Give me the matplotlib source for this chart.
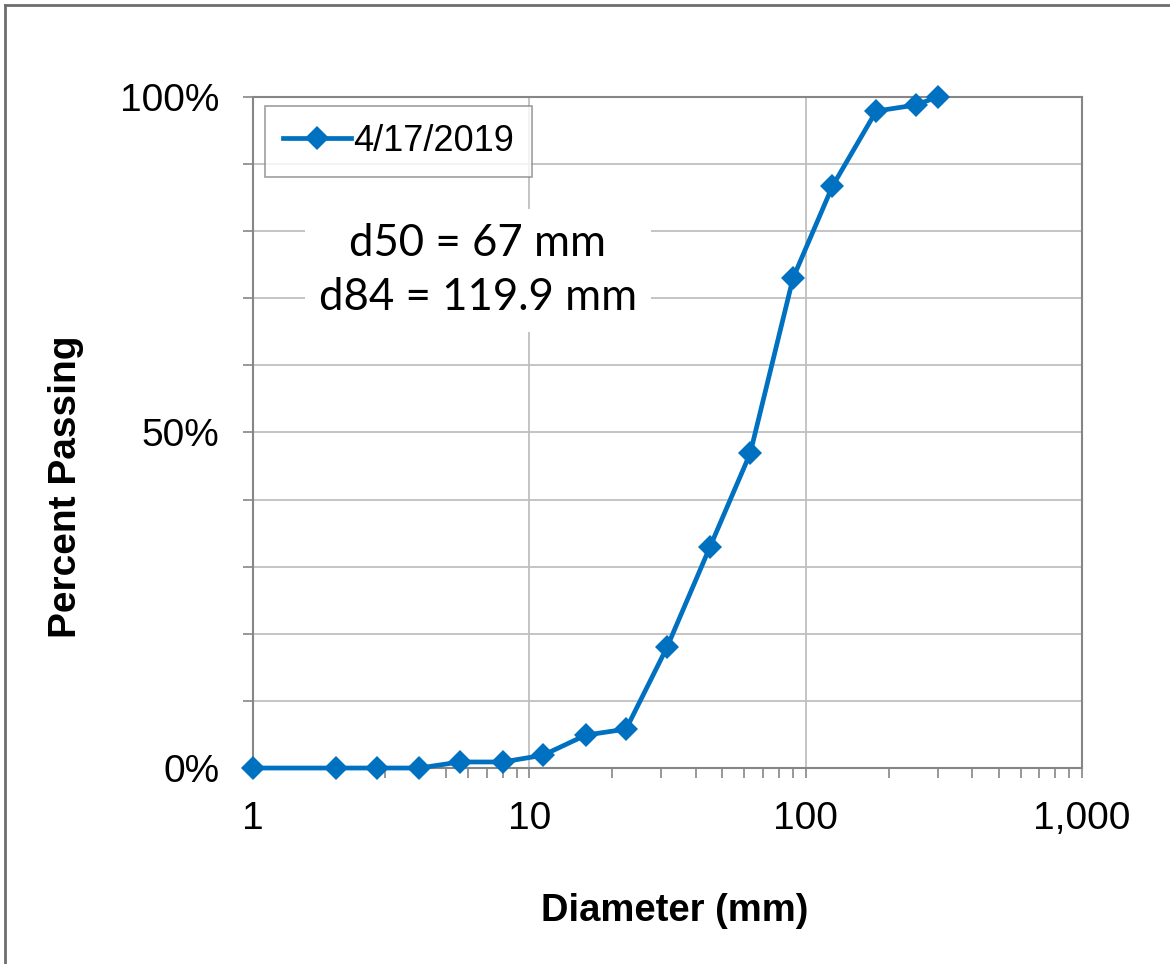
import matplotlib.pyplot as plt
from matplotlib.ticker import FixedLocator, FuncFormatter, NullFormatter
from matplotlib.lines import Line2D

# sieve sizes (mm) and percent passing
diameter = [1, 2, 2.8, 4, 5.6, 8, 11.2, 16, 22.4, 31.5, 45, 63, 90, 125, 180, 250, 300]
passing = [0, 0, 0, 0, 0.9, 0.9, 1.9, 4.9, 5.8, 18.0, 32.9, 46.9, 73.0, 86.7, 97.9, 98.8, 100]
series_label = "4/17/2019"
stats_text = "d50 = 67 mm\nd84 = 119.9 mm"
x_ticks = [1, 10, 100, 1000]
x_ticklabels = ["1", "10", "100", "1,000"]
y_labeled = [0, 50, 100]

blue = "#0070C0"
grid_c = "#BFBFBF"
axis_c = "#868686"

plt.rcParams["font.family"] = ["Liberation Sans", "DejaVu Sans"]

fig = plt.figure(figsize=(11.7, 9.64), dpi=100)
ax = fig.add_axes([0.2162, 0.2033, 0.7086, 0.6961])

ax.plot(diameter, passing, color=blue, lw=3.4, marker="D", ms=12.5,
        markeredgewidth=0, label=series_label, clip_on=False, zorder=5)

ax.set_xscale("log")
ax.set_xlim(1, 1000)
ax.set_ylim(0, 100)

ax.xaxis.set_major_locator(FixedLocator(x_ticks))
ax.set_xticklabels(x_ticklabels)
minor = [m * d for d in [1, 10, 100] for m in range(2, 10)]
ax.xaxis.set_minor_locator(FixedLocator(minor))
ax.xaxis.set_minor_formatter(NullFormatter())

ax.yaxis.set_major_locator(FixedLocator(list(range(0, 101, 10))))
ax.yaxis.set_major_formatter(FuncFormatter(
    lambda v, p: f"{int(round(v))}%" if int(round(v)) in y_labeled else ""))

ax.grid(True, which="major", color=grid_c, lw=1.3)
ax.set_axisbelow(True)
for s in ax.spines.values():
    s.set_color(axis_c)
    s.set_linewidth(1.5)

ax.tick_params(axis="both", which="major", direction="out", length=7,
               width=1.2, color=axis_c, labelsize=28)
ax.tick_params(axis="x", which="minor", direction="out", length=7,
               width=1.2, color=axis_c)
ax.tick_params(axis="x", which="major", pad=17)
ax.tick_params(axis="y", which="major", pad=17)

ax.set_xlabel("Diameter (mm)", fontsize=27.5, fontweight="bold")
ax.xaxis.set_label_coords(0.509, -0.186)
ax.set_ylabel("Percent Passing", fontsize=28, fontweight="bold")
ax.yaxis.set_label_coords(-0.204, 0.419)

leg = ax.legend(loc="upper left", bbox_to_anchor=(0.014, 0.987), fontsize=26,
                frameon=True, fancybox=False, edgecolor=axis_c,
                handlelength=1.9, handletextpad=0.05, borderpad=0.5,
                borderaxespad=0)
leg.get_frame().set_linewidth(1.2)

ax.text(0.271, 0.742, stats_text, transform=ax.transAxes, ha="center",
        va="center", fontsize=31.5, family=["Lato", "DejaVu Sans"],
        linespacing=1.4,
        bbox=dict(facecolor="white", edgecolor="none", pad=10), zorder=4)

# outer chart frame
fig.add_artist(Line2D([0.0043, 1], [0.9948, 0.9948], color="#6e6e6e", lw=2))
fig.add_artist(Line2D([0.0043, 0.0043], [0, 0.9948], color="#6e6e6e", lw=2))

fig.savefig("out.png", dpi=100)
